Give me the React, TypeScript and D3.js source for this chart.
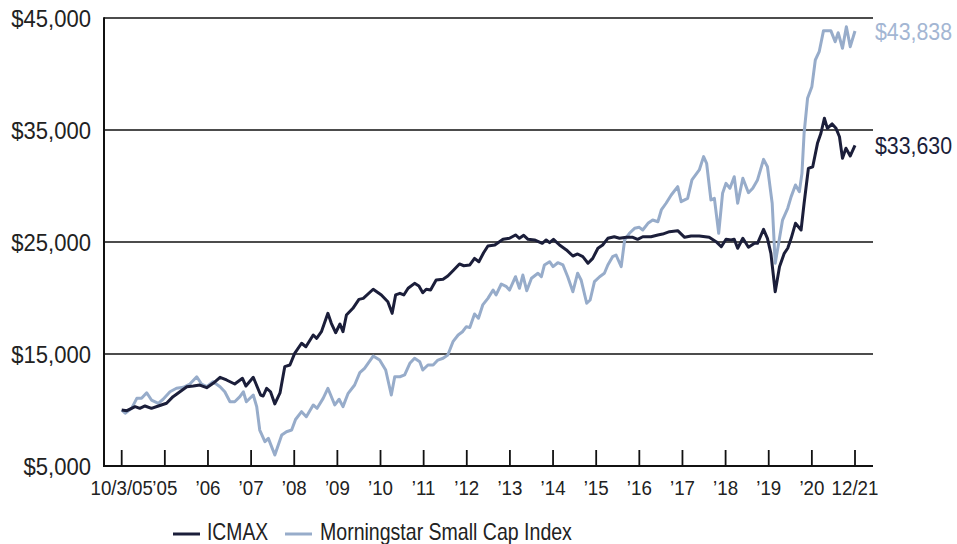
import React from "react";
import * as d3 from "d3";

// Axis positions (0 = 10/3/05 start, 17 = 12/21 end) and tick labels
const xTickLabels = [
  "10/3/05", "\u201905", "\u201906", "\u201907", "\u201908", "\u201909", "\u201910", "\u201911",
  "\u201912", "\u201913", "\u201914", "\u201915", "\u201916", "\u201917", "\u201918", "\u201919",
  "\u201920", "12/21",
];
const yTicks = [5000, 15000, 25000, 35000, 45000];
const gridValues = [15000, 25000, 35000, 45000];

// ICMAX: [period position, growth of $10,000]
const icmax: [number, number][] = [
  [0, 10000], [0.12, 9940], [0.31, 10300], [0.42, 10150], [0.54, 10360], [0.69, 10150],
  [0.85, 10360], [1.04, 10600], [1.19, 11190], [1.35, 11630], [1.51, 12080], [1.66, 12140],
  [1.81, 12230], [1.97, 11990], [2.12, 12380], [2.28, 12920], [2.43, 12680], [2.62, 12320],
  [2.8, 12830], [2.88, 12140], [3.05, 12920], [3.22, 11340], [3.28, 11250], [3.36, 11940],
  [3.45, 11630], [3.55, 10540], [3.67, 11520], [3.78, 13870], [3.9, 14020], [4.01, 15060],
  [4.17, 15960], [4.27, 15650], [4.44, 16700], [4.52, 16400], [4.63, 16990], [4.78, 18630],
  [4.86, 17740], [4.96, 16900], [5.06, 17680], [5.13, 16990], [5.21, 18480], [5.36, 19080],
  [5.5, 19880], [5.6, 19970], [5.83, 20780], [6.02, 20270], [6.17, 19670], [6.27, 18630],
  [6.35, 20270], [6.45, 20420], [6.54, 20270], [6.64, 20870], [6.79, 21310], [6.89, 21070],
  [6.98, 20470], [7.06, 20780], [7.16, 20710], [7.29, 21610], [7.45, 21670], [7.56, 21960],
  [7.68, 22440], [7.83, 23040], [7.93, 22880], [8.07, 22950], [8.18, 23540], [8.28, 23240],
  [8.39, 24040], [8.49, 24640], [8.65, 24730], [8.84, 25240], [8.99, 25330], [9.13, 25630],
  [9.22, 25330], [9.32, 25600], [9.42, 25240], [9.57, 25180], [9.75, 24880], [9.84, 25180],
  [9.92, 24940], [10.01, 25240], [10.15, 24730], [10.31, 24290], [10.46, 23750], [10.57, 23930],
  [10.69, 23690], [10.81, 23100], [10.92, 23540], [11.04, 24440], [11.15, 24730], [11.27, 25330],
  [11.42, 25470], [11.54, 25330], [11.7, 25420], [11.85, 25420], [11.96, 25240], [12.08, 25470],
  [12.27, 25470], [12.43, 25630], [12.54, 25710], [12.7, 25920], [12.89, 26010], [13.05, 25420],
  [13.2, 25540], [13.39, 25540], [13.62, 25420], [13.78, 25030], [13.9, 24580], [14.01, 25240],
  [14.13, 25180], [14.2, 25240], [14.28, 24440], [14.4, 25330], [14.53, 24530], [14.67, 24880],
  [14.74, 24880], [14.88, 26130], [14.97, 25330], [15.05, 23990], [15.15, 20560], [15.25, 22800],
  [15.36, 23990], [15.44, 24440], [15.52, 25330], [15.62, 26670], [15.75, 26070], [15.82, 28460],
  [15.92, 31580], [16.02, 31720], [16.13, 33810], [16.21, 34710], [16.29, 36050], [16.36, 35150],
  [16.47, 35540], [16.56, 35150], [16.64, 34400], [16.71, 32470], [16.79, 33370], [16.89, 32680],
  [17, 33630],
];

// Morningstar Small Cap Index: [period position, growth of $10,000]
const morningstar: [number, number][] = [
  [0, 10000], [0.08, 9710], [0.23, 10150], [0.35, 11040], [0.46, 11040], [0.58, 11540],
  [0.69, 10890], [0.85, 10600], [0.96, 10960], [1.12, 11630], [1.27, 11940], [1.43, 12030],
  [1.58, 12320], [1.74, 12970], [1.85, 12320], [1.97, 12080], [2.12, 12530], [2.28, 12080],
  [2.39, 11630], [2.51, 10740], [2.62, 10740], [2.74, 11190], [2.82, 11630], [2.89, 10740],
  [3.05, 11340], [3.13, 10300], [3.2, 8210], [3.32, 7170], [3.4, 7470], [3.55, 5980],
  [3.71, 7770], [3.82, 8060], [3.94, 8210], [4.03, 9150], [4.17, 9850], [4.28, 9400],
  [4.44, 10450], [4.53, 10150], [4.67, 11040], [4.78, 11940], [4.94, 10450], [5.04, 10960],
  [5.13, 10300], [5.25, 11490], [5.4, 12230], [5.52, 13330], [5.63, 13720], [5.83, 14820],
  [5.98, 14460], [6.12, 13570], [6.25, 11340], [6.33, 12970], [6.45, 12970], [6.56, 13130],
  [6.68, 14170], [6.79, 14620], [6.91, 14310], [6.98, 13570], [7.1, 14020], [7.22, 14020],
  [7.33, 14460], [7.45, 14620], [7.56, 14910], [7.68, 16100], [7.8, 16700], [7.9, 16990],
  [7.99, 17440], [8.07, 17370], [8.18, 18570], [8.27, 18190], [8.37, 19380], [8.49, 19970],
  [8.61, 20710], [8.68, 20270], [8.8, 21250], [8.92, 21010], [8.99, 20710], [9.13, 21900],
  [9.22, 20870], [9.3, 22050], [9.39, 20650], [9.5, 21760], [9.65, 22210], [9.73, 21900],
  [9.8, 22950], [9.92, 23240], [10.0, 22800], [10.11, 23150], [10.23, 22950], [10.34, 21900],
  [10.46, 20560], [10.57, 22210], [10.65, 21610], [10.78, 19530], [10.86, 19820], [10.96, 21460],
  [11.08, 21900], [11.19, 22210], [11.27, 22950], [11.38, 23690], [11.46, 23840], [11.58, 22800],
  [11.66, 25180], [11.77, 25780], [11.89, 26220], [12.0, 26310], [12.08, 26070], [12.2, 26670],
  [12.31, 26960], [12.43, 26810], [12.51, 27860], [12.62, 28460], [12.74, 29200], [12.89, 29940],
  [12.97, 28600], [13.12, 28900], [13.22, 30540], [13.39, 31430], [13.49, 32620], [13.56, 32030],
  [13.66, 28750], [13.74, 28900], [13.84, 25780], [13.93, 29350], [14.01, 30240], [14.1, 29800],
  [14.2, 30830], [14.28, 28460], [14.4, 30690], [14.53, 29400], [14.63, 29800], [14.74, 30540],
  [14.88, 32380], [14.97, 31720], [15.08, 28460], [15.15, 23100], [15.23, 24880], [15.32, 26960],
  [15.44, 28010], [15.52, 29050], [15.62, 30090], [15.71, 29490], [15.77, 31130], [15.82, 34710],
  [15.9, 37830], [16.0, 38870], [16.08, 41250], [16.17, 41990], [16.27, 43870], [16.44, 43870],
  [16.54, 42880], [16.61, 43690], [16.71, 42300], [16.8, 44220], [16.89, 42440], [17, 43838],
];

const seriesNames = ["ICMAX", "Morningstar Small Cap Index"];
const endLabels = ["$33,630", "$43,838"];

const DARK = "#1b1e3a";
const LIGHT = "#97acca";
const LIGHT_TEXT = "#a3b6d3";
const FONT = "'Liberation Sans', Arial, Helvetica, sans-serif";

// Condensed-looking text: horizontally scaled glyphs
function CText(props: {
  x: number;
  y: number;
  size: number;
  sx: number;
  anchor?: "start" | "middle" | "end";
  fill: string;
  baseline?: string;
  children: React.ReactNode;
}) {
  const { x, y, size, sx, anchor = "start", fill, baseline, children } = props;
  return (
    <text
      transform={`translate(${x},${y}) scale(${sx},1)`}
      textAnchor={anchor}
      dominantBaseline={baseline as any}
      fontSize={size}
      fill={fill}
    >
      {children}
    </text>
  );
}

export default function App() {
  const W = 957;
  const H = 544;
  const plotLeft = 104;
  const plotRight = 873;
  const x = d3.scaleLinear().domain([0, 17]).range([121.7, 855]);
  const y = d3.scaleLinear().domain([5000, 45000]).range([466, 18]);
  const line = d3
    .line<[number, number]>()
    .x((d) => x(d[0]))
    .y((d) => y(d[1]))
    .curve(d3.curveLinear);
  const fmt = d3.format("$,");

  return (
    <svg
      width={W}
      height={H}
      style={{ position: "absolute", left: 0, top: 0, background: "#fff" }}
      fontFamily={FONT}
    >
      {/* gridlines */}
      {gridValues.map((v) => (
        <line key={v} x1={plotLeft} x2={plotRight} y1={y(v)} y2={y(v)} stroke="#111" strokeWidth={1.6} />
      ))}
      {/* axes */}
      <line x1={plotLeft} x2={plotLeft} y1={y(45000) - 0.8} y2={y(5000) + 1} stroke="#111" strokeWidth={2} />
      <line x1={plotLeft} x2={plotRight} y1={y(5000)} y2={y(5000)} stroke="#111" strokeWidth={2} />
      {/* y labels */}
      {yTicks.map((v) => (
        <CText key={v} x={91} y={y(v) + 1} size={24.5} sx={0.9} anchor="end" baseline="central" fill="#222">
          {fmt(v)}
        </CText>
      ))}
      {/* x ticks */}
      {xTickLabels.map((lab, i) => (
        <g key={i}>
          <line x1={x(i)} x2={x(i)} y1={y(5000) - 16} y2={y(5000)} stroke="#111" strokeWidth={1.8} />
          <CText x={x(i)} y={495} size={19.5} sx={0.96} anchor="middle" fill="#222">
            {lab}
          </CText>
        </g>
      ))}
      {/* series */}
      <path d={line(morningstar) || ""} fill="none" stroke={LIGHT} strokeWidth={3} strokeLinejoin="round" />
      <path d={line(icmax) || ""} fill="none" stroke={DARK} strokeWidth={3} strokeLinejoin="round" />
      {/* end labels */}
      <CText x={875} y={y(icmax[icmax.length - 1][1]) + 1} size={23.3} sx={0.915} baseline="central" fill={DARK}>
        {endLabels[0]}
      </CText>
      <CText x={875} y={y(morningstar[morningstar.length - 1][1]) + 1} size={23.3} sx={0.915} baseline="central" fill={LIGHT_TEXT}>
        {endLabels[1]}
      </CText>
      {/* legend */}
      <line x1={173} x2={200} y1={534} y2={534} stroke={DARK} strokeWidth={3} />
      <CText x={207} y={540} size={23} sx={0.84} fill="#222">{seriesNames[0]}</CText>
      <line x1={285} x2={312} y1={534} y2={534} stroke={LIGHT} strokeWidth={3} />
      <CText x={320} y={540} size={23} sx={0.85} fill="#222">{seriesNames[1]}</CText>
    </svg>
  );
}
